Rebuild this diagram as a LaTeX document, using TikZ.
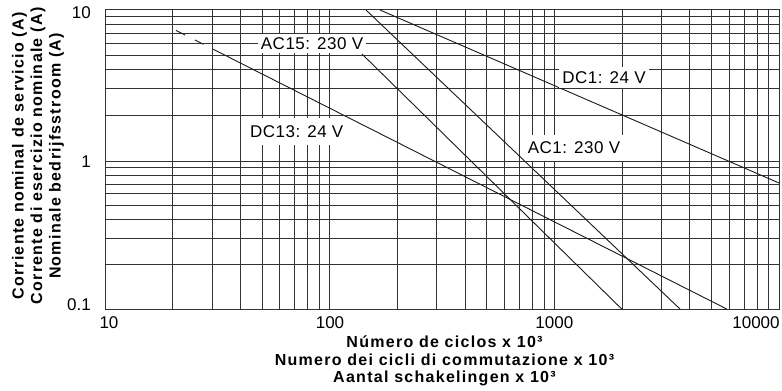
\documentclass[tikz,border=0pt]{standalone}
\usepackage{fontspec}
\setmainfont{Liberation Sans}
\begin{document}
\begin{tikzpicture}[x=1pt,y=-1pt,
  gridline/.style={line width=0.8pt,black!80},
  curve/.style={line width=0.9pt,black!90},
  lbl/.style={fill=white,inner xsep=3pt,inner ysep=5pt,font=\fontsize{17}{20}\selectfont\addfontfeatures{LetterSpace=3}},
  tick/.style={font=\fontsize{17}{20}\selectfont,inner sep=0pt},
  axtitle/.style={font=\fontsize{16}{18}\selectfont\bfseries\addfontfeatures{LetterSpace=8},align=center,inner sep=0pt}]
\useasboundingbox (0,0) rectangle (782,391);
% vertical grid
\foreach \d in {0,1,2}{
  \foreach \m in {1,...,9}{
    \pgfmathsetmacro\xx{105+224.67*(\d+log10(\m))}
    \draw[gridline] (\xx,9.5) -- (\xx,309);
  }
}
\draw[gridline] (779,9.5) -- (779,309);
% horizontal grid
\foreach \m in {1,...,9}{
  \pgfmathsetmacro\yy{161-151.5*log10(\m)}
  \draw[gridline] (105,\yy) -- (779,\yy);
  \pgfmathsetmacro\yy{309-148*log10(\m)}
  \draw[gridline] (105,\yy) -- (779,\yy);
}
\draw[gridline] (105,9.5) rectangle (779,309);
% curves
\draw[curve] (380,10) -- (779,183);
\draw[curve] (366,10) -- (680,309);
\draw[curve] (362,54) -- (621.7,309);
\draw[curve] (213.3,49.3) -- (726.7,309);
\draw[curve] (176,30.4) -- (185,35);
\draw[curve] (195,40.0) -- (203.5,44.3);
% curve labels
\node[lbl,inner ysep=3pt] (ac15) at (312,43.5) {AC15: 230 V};
\node[lbl,inner ysep=7pt] (dc13) at (296.7,131.5) {DC13: 24 V};
\node[lbl,inner ysep=4.5pt] (dc1) at (604,77.5) {DC1: 24 V};
\node[lbl,inner ysep=7pt] (ac1) at (574,148) {AC1: 230 V};
% tick labels
\node[tick,anchor=east] (y10) at (91,12.3) {10};
\node[tick,anchor=east] (y1) at (91,161.5) {1};
\node[tick,anchor=east] (y01) at (91,305) {0.1};
\node[tick] (x10) at (109,322.7) {10};
\node[tick] (x100) at (330,322.7) {100};
\node[tick] (x1000) at (554.4,322.7) {1000};
\node[tick] (x10000) at (756,322.7) {10000};
% axis titles
\node[axtitle,rotate=90,font=\fontsize{16}{18.5}\selectfont\bfseries\addfontfeatures{LetterSpace=8}] (ylab) at (38,156) {Corriente nominal de servicio (A)\\Corrente di esercizio nominale (A)\\Nominale bedrijfsstroom (A)};
\node[axtitle,font=\fontsize{16}{17.3}\selectfont\bfseries\addfontfeatures{LetterSpace=8}] (xlab) at (444.5,361) {Número de ciclos x 10³\\Numero dei cicli di commutazione x 10³\\Aantal schakelingen x 10³};
\end{tikzpicture}
\end{document}
